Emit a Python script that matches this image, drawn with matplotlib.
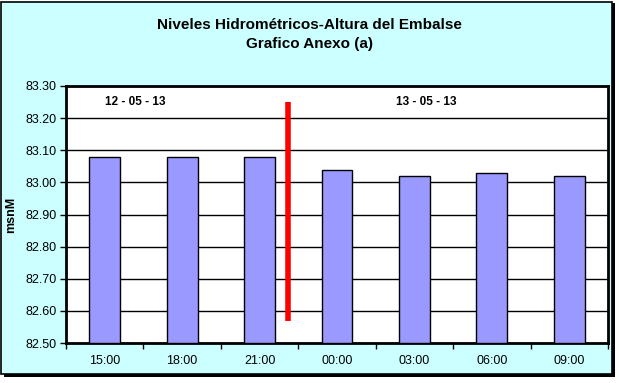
import numpy as np
import matplotlib.pyplot as plt
from matplotlib.patches import Rectangle

plt.rcParams['font.family'] = ['Liberation Sans', 'DejaVu Sans']

horas = ['15:00', '18:00', '21:00', '00:00', '03:00', '06:00', '09:00']
niveles = [83.08, 83.08, 83.08, 83.04, 83.02, 83.03, 83.02]
y_ticks = [82.50, 82.60, 82.70, 82.80, 82.90, 83.00, 83.10, 83.20, 83.30]
fechas = ['12 - 05 - 13', '13 - 05 - 13']
corte_x = 2.37           # separador de dias, en unidades de categoria
corte_y = [82.57, 83.25]

W, H = 619, 383
fig = plt.figure(figsize=(W / 100, H / 100), dpi=100)
fig.patch.set_facecolor('white')

# marco con sombra
fig.patches.append(Rectangle((4 / W, 1 - 377 / H), 611 / W, 374 / H, transform=fig.transFigure,
                             facecolor='black', edgecolor='none', zorder=0))
fig.patches.append(Rectangle((1 / W, 1 - 374 / H), 611 / W, 372 / H, transform=fig.transFigure,
                             facecolor='#CCFFFF', edgecolor='black', linewidth=1.2, zorder=1))

ax = fig.add_axes([66 / W, 1 - 343 / H, 542 / W, 257 / H])
ax.set_zorder(2)
x = np.arange(len(horas))
ax.bar(x, np.array(niveles) - 82.5, bottom=82.5, width=0.4, color='#9999FF',
       edgecolor='black', linewidth=1.0, zorder=3)
ax.set_xlim(-0.5, len(horas) - 0.5)
ax.set_ylim(82.5, 83.3)
ax.set_yticks(y_ticks)
ax.set_yticklabels(['%.2f' % v for v in y_ticks], fontsize=9)
ax.set_xticks(x)
ax.set_xticklabels(horas, fontsize=9)
ax.set_xticks(np.arange(-0.5, len(horas)), minor=True)
ax.tick_params(axis='x', which='major', length=0, pad=9)
ax.tick_params(axis='x', which='minor', length=4, direction='out', width=1)
ax.tick_params(axis='y', length=4, direction='out', width=1, pad=3)
ax.grid(axis='y', color='black', linewidth=1.0, zorder=1)
for s in ax.spines.values():
    s.set_linewidth(2)
ax.set_ylabel('msnM', fontsize=9, fontweight='bold', labelpad=6)

ax.plot([corte_x, corte_x], corte_y, color='#FF0000', linewidth=4, solid_capstyle='butt', zorder=4)
ax.text(0.4, 83.25, fechas[0], fontsize=8.5, fontweight='bold', ha='center', va='center')
ax.text(4.15, 83.25, fechas[1], fontsize=8.5, fontweight='bold', ha='center', va='center')

fig.text(0.5, 1 - 25 / H, 'Niveles Hidrométricos-Altura del Embalse', ha='center', va='center',
         fontsize=11, fontweight='bold')
fig.text(0.5, 1 - 44 / H, 'Grafico Anexo (a)', ha='center', va='center',
         fontsize=11, fontweight='bold')

fig.savefig('out.png', dpi=100)
